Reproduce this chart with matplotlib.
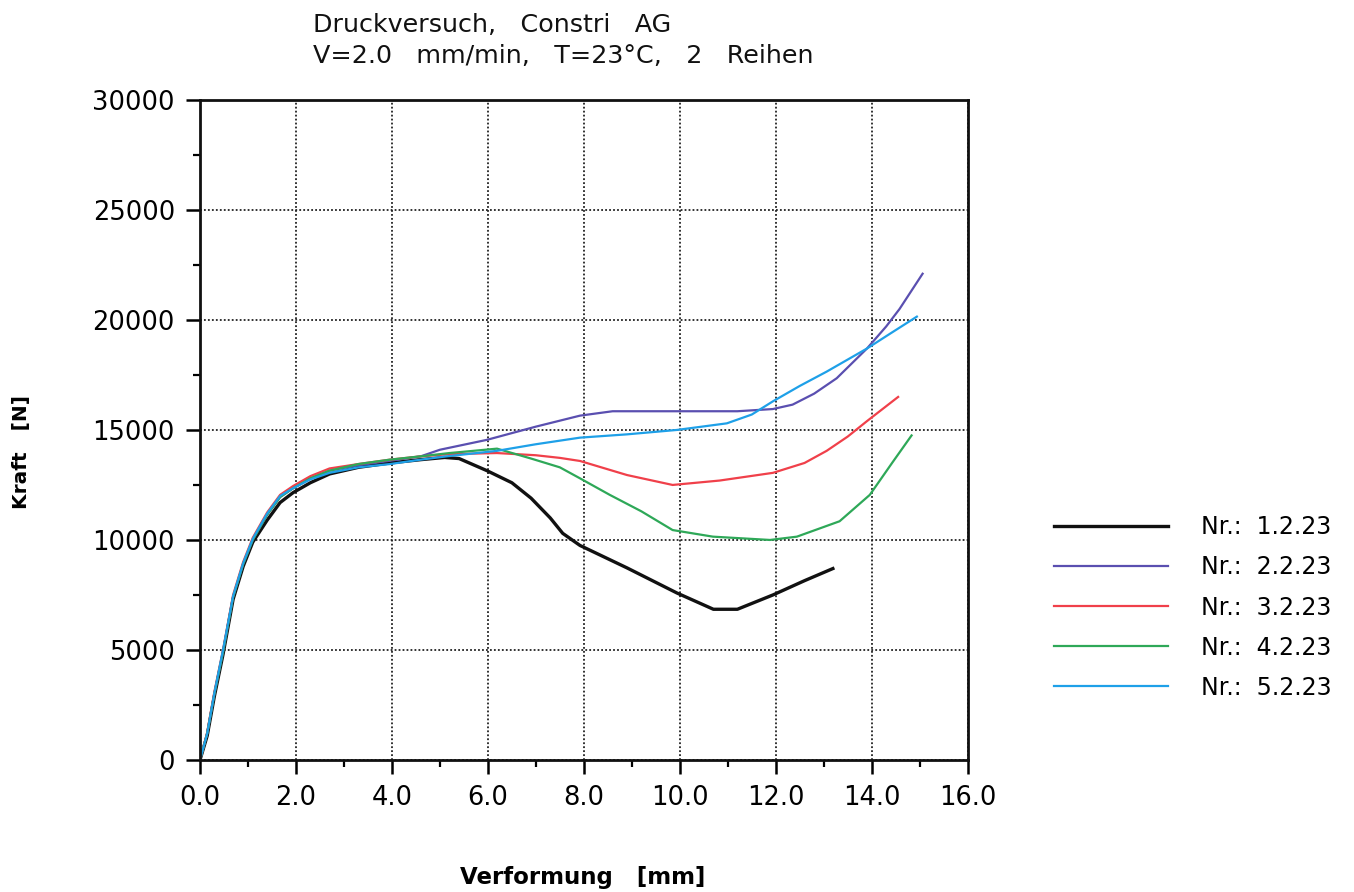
import numpy as np
import matplotlib.pyplot as plt
from matplotlib.ticker import MultipleLocator

# Kraft-Verformung, Druckversuch (5 Proben)
x1 = [0, 0.15, 0.3, 0.48, 0.69, 0.9, 1.1, 1.4, 1.67, 1.94, 2.3, 2.7, 3.3, 3.96, 4.6, 5.1, 5.4,
      5.98, 6.5, 6.9, 7.3, 7.56, 7.92, 8.9, 9.94, 10.7, 11.2, 11.94, 12.6, 13.19]
y1 = [0, 1100, 2900, 4800, 7300, 8800, 9900, 10900, 11700, 12150, 12600, 13000, 13300, 13500,
      13650, 13750, 13700, 13150, 12600, 11900, 11000, 10300, 9750, 8730, 7590, 6850, 6850,
      7500, 8150, 8700]

x2 = [0, 0.15, 0.3, 0.48, 0.69, 0.9, 1.1, 1.4, 1.67, 1.94, 2.3, 2.7, 3.3, 3.96, 4.6, 5.0,
      5.98, 7.0, 7.92, 8.6, 9.5, 10.4, 11.2, 11.94, 12.35, 12.8, 13.27, 13.9, 14.3, 14.58, 15.06]
y2 = [0, 1200, 3000, 4900, 7400, 8900, 10000, 11150, 11950, 12350, 12800, 13150, 13400, 13600,
      13800, 14100, 14550, 15150, 15650, 15850, 15850, 15850, 15850, 15950, 16150, 16650, 17350,
      18700, 19700, 20500, 22100]

x3 = [0, 0.15, 0.3, 0.48, 0.69, 0.9, 1.1, 1.4, 1.67, 1.94, 2.3, 2.7, 3.3, 3.96, 4.6, 5.2,
      6.19, 7.0, 7.5, 7.92, 8.9, 9.85, 10.83, 11.94, 12.6, 13.06, 13.5, 13.9, 14.55]
y3 = [0, 1250, 3100, 5000, 7500, 9000, 10100, 11250, 12050, 12450, 12900, 13250, 13450, 13650,
      13800, 13900, 13950, 13850, 13730, 13590, 12950, 12500, 12700, 13050, 13500, 14050,
      14700, 15400, 16500]

x4 = [0, 0.15, 0.3, 0.48, 0.69, 0.9, 1.1, 1.4, 1.67, 1.94, 2.3, 2.7, 3.3, 3.96, 4.6, 5.2,
      6.19, 6.9, 7.5, 7.92, 8.54, 9.2, 9.85, 10.69, 11.88, 12.44, 13.33, 13.96, 14.44, 14.83]
y4 = [0, 1200, 3000, 4900, 7400, 8900, 10000, 11150, 11950, 12350, 12800, 13150, 13450, 13650,
      13800, 13950, 14150, 13700, 13300, 12800, 12050, 11300, 10450, 10150, 10000, 10150, 10850,
      12050, 13550, 14750]

x5 = [0, 0.15, 0.3, 0.48, 0.69, 0.9, 1.1, 1.4, 1.67, 1.94, 2.3, 2.7, 3.3, 3.96, 4.6, 5.14,
      6.19, 7.0, 7.92, 8.9, 9.94, 10.98, 11.5, 11.94, 12.5, 13.06, 13.9, 14.4, 14.94]
y5 = [0, 1200, 3050, 5000, 7450, 8950, 10050, 11200, 12000, 12350, 12750, 13050, 13300, 13450,
      13650, 13800, 14050, 14350, 14650, 14800, 15000, 15300, 15700, 16300, 17000, 17650, 18700,
      19400, 20150]

names = ['Nr.:  1.2.23', 'Nr.:  2.2.23', 'Nr.:  3.2.23', 'Nr.:  4.2.23', 'Nr.:  5.2.23']
colors = ['#111111', '#5a4fb0', '#f0404a', '#2ea858', '#1ea0e8']
widths = [2.4, 1.6, 1.6, 1.6, 1.6]

fig = plt.figure(figsize=(13.54, 8.92), dpi=100)
ax = fig.add_axes([0.1477, 0.148, 0.567, 0.74])

for xs, ys, c, lw, n in zip([x1, x2, x3, x4, x5], [y1, y2, y3, y4, y5], colors, widths, names):
    ax.plot(xs, ys, color=c, lw=lw, label=n)

ax.set_xlim(0, 16)
ax.set_ylim(0, 30000)
ax.xaxis.set_major_locator(MultipleLocator(2))
ax.xaxis.set_minor_locator(MultipleLocator(1))
ax.yaxis.set_major_locator(MultipleLocator(5000))
ax.yaxis.set_minor_locator(MultipleLocator(2500))
ax.xaxis.set_major_formatter(plt.FuncFormatter(lambda v, p: '%.1f' % v))
ax.yaxis.set_major_formatter(plt.FuncFormatter(lambda v, p: '%d' % v))

ax.grid(True, which='major', color='#222222', linestyle=(0, (1, 1.2)), linewidth=1.3)
ax.tick_params(which='major', direction='out', length=10, width=1.8, labelsize=18.5, pad=8)
ax.tick_params(which='minor', direction='out', length=5, width=1.6)
for s in ax.spines.values():
    s.set_linewidth(2)
    s.set_color('#111111')

# Titelzeilen
fig.text(0.2312, 0.9641, 'Druckversuch,   Constri   AG', fontsize=18.3,
         va='baseline', color='#111111')
fig.text(0.2312, 0.9294, 'V=2.0   mm/min,   T=23°C,   2   Reihen', fontsize=18.3,
         va='baseline', color='#111111')

fig.text(0.016, 0.493, 'Kraft   [N]', rotation=90, fontsize=14.5, fontweight='bold',
         va='center', ha='center')
fig.text(0.43, 0.016, 'Verformung   [mm]', fontsize=16.5, fontweight='bold',
         va='center', ha='center')

fig.legend(loc='upper left', bbox_to_anchor=(0.763, 0.446), frameon=False, fontsize=17,
           handlelength=4.8, handletextpad=1.4, labelspacing=0.68)

fig.savefig('out.png', dpi=100)
